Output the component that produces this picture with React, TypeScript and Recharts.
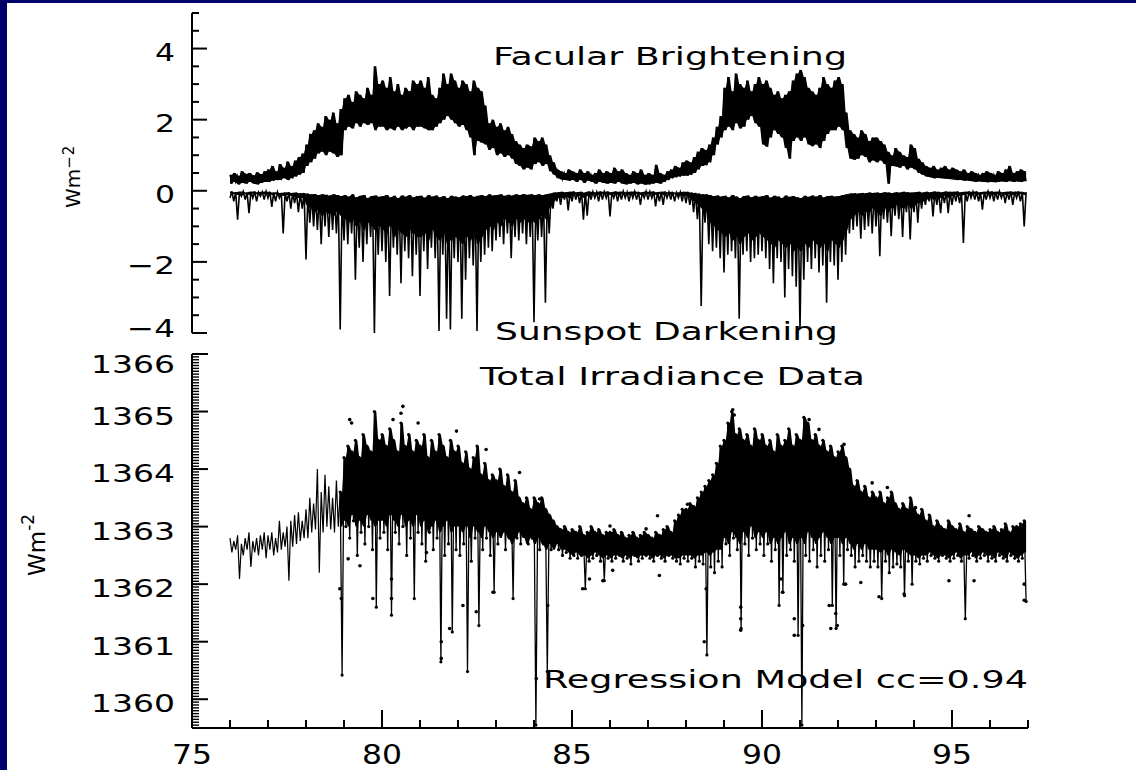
import React from 'react';
import { ComposedChart, Line, Area, Scatter, XAxis, YAxis, Customized } from 'recharts';

// ---------- sampling of the time axis (years since 1900) ----------
const START_YEAR = 76.0;
const BIN = 0.1;

// ---------- Facular brightening: upper / lower envelope per 0.1 yr (W m-2) ----------
const facHi = [
  0.45, 0.5, 0.42, 0.55, 0.48, 0.5, 0.44, 0.52, 0.47, 0.55,
  0.6, 0.7, 0.55, 0.75, 0.65, 0.82, 0.7, 0.85, 0.95, 1.05,
  1.3, 1.6, 1.7, 1.9, 1.8, 2.1, 2.0, 2.2, 1.9, 2.3,
  2.6, 2.7, 2.5, 2.8, 2.7, 2.6, 2.9, 2.7, 3.5, 3.0,
  3.1, 2.9, 3.2, 2.8, 3.0, 2.7, 2.9, 2.8, 3.1, 3.0,
  3.1, 2.9, 3.2, 2.7, 2.6, 2.9, 3.3, 3.0, 3.3, 3.1,
  2.9, 3.1, 3.0, 2.8, 3.1, 2.9, 2.8, 2.4, 1.9, 2.0,
  1.8, 1.9, 1.7, 1.8, 1.6, 1.4, 1.3, 1.2, 1.3, 1.25,
  1.5, 1.4, 1.5, 1.3, 1.0, 0.8, 0.6, 0.55, 0.5, 0.6,
  0.55, 0.5, 0.6, 0.5, 0.55, 0.45, 0.5, 0.6, 0.5, 0.55,
  0.5, 0.65, 0.55, 0.6, 0.5, 0.45, 0.55, 0.5, 0.6, 0.45,
  0.5, 0.45, 0.73, 0.5, 0.45, 0.55, 0.6, 0.7, 0.65, 0.8,
  0.85, 0.8, 0.95, 1.1, 1.2, 1.15, 1.3, 1.5, 1.8, 2.1,
  2.9, 3.2, 2.8, 3.3, 3.0, 2.9, 3.1, 2.8, 3.0, 3.2,
  3.0, 3.1, 2.9, 2.7, 2.8, 2.6, 2.7, 2.8, 3.1, 3.3,
  3.4, 3.2, 2.9, 2.8, 2.7, 2.9, 3.2, 3.0, 2.9, 3.1,
  3.2, 3.0, 2.2, 1.7, 1.6, 1.5, 1.7, 1.6, 1.4, 1.5,
  1.5, 1.4, 1.3, 1.1, 1.0, 1.2, 1.1, 1.0, 0.95, 1.3,
  1.2, 0.9, 0.8, 0.7, 0.65, 0.7, 0.6, 0.65, 0.7, 0.6,
  0.65, 0.6, 0.55, 0.6, 0.5, 0.55, 0.5, 0.45, 0.5, 0.55,
  0.5, 0.45, 0.55, 0.5, 0.6, 0.7, 0.5, 0.55, 0.6, 0.55,
];
const facLo = [
  0.2, 0.25, 0.18, 0.22, 0.2, 0.25, 0.2, 0.18, 0.22, 0.25,
  0.25, 0.28, 0.3, 0.3, 0.35, 0.3, 0.35, 0.4, 0.45, 0.5,
  0.7, 0.8, 0.9, 1.05, 1.1, 1.0, 1.1, 1.05, 0.95, 1.0,
  1.7, 1.8, 1.75, 1.9, 1.8, 1.9, 1.85, 1.9, 1.7, 1.8,
  1.8, 1.7, 1.75, 1.7, 1.8, 1.7, 1.75, 1.8, 1.7, 1.8,
  1.8, 1.75, 1.7, 1.7, 1.8, 1.9, 2.0, 2.1, 2.0, 1.9,
  1.8, 1.85, 1.7, 1.5, 1.0, 1.4, 1.35, 1.3, 1.15, 1.2,
  1.0, 1.05, 0.95, 1.0, 0.9, 0.75, 0.7, 0.6, 0.65, 0.6,
  0.75, 0.8, 0.7, 0.75, 0.55, 0.45, 0.35, 0.32, 0.3, 0.28,
  0.3, 0.25, 0.3, 0.22, 0.28, 0.25, 0.2, 0.25, 0.22, 0.2,
  0.22, 0.2, 0.25, 0.2, 0.18, 0.2, 0.22, 0.18, 0.2, 0.17,
  0.18, 0.2, 0.22, 0.2, 0.25, 0.3, 0.35, 0.38, 0.4, 0.42,
  0.42, 0.45, 0.5, 0.6, 0.7, 0.72, 0.8, 1.0, 1.3, 1.5,
  1.7, 1.8, 1.7, 1.9, 1.75, 1.8, 2.0, 2.1, 1.9, 1.8,
  1.3, 1.24, 1.5, 1.7, 1.6, 1.5, 1.2, 0.9, 1.4, 1.5,
  1.4, 1.5, 1.3, 1.25, 1.3, 1.2, 1.4, 1.6, 1.7, 1.7,
  1.8, 1.7, 1.2, 0.9, 0.87, 0.9, 1.0, 0.95, 0.8, 0.85,
  0.8, 0.85, 0.75, 0.2, 0.7, 0.68, 0.65, 0.7, 0.6, 0.65,
  0.6, 0.5, 0.45, 0.4, 0.38, 0.35, 0.36, 0.35, 0.34, 0.33,
  0.32, 0.3, 0.3, 0.28, 0.28, 0.27, 0.25, 0.26, 0.25, 0.24,
  0.25, 0.24, 0.25, 0.26, 0.25, 0.27, 0.25, 0.26, 0.25, 0.27,
];

// ---------- Sunspot darkening: upper edge, solid-band lower edge and spike depth per 0.1 yr ----------
const spotTop = [
  -0.02, -0.04, -0.03, -0.02, -0.05, -0.03, -0.02, -0.04, -0.03, -0.02,
  -0.03, -0.05, -0.04, -0.06, -0.05, -0.04, -0.06, -0.05, -0.07, -0.06,
  -0.08, -0.1, -0.09, -0.12, -0.1, -0.11, -0.13, -0.1, -0.12, -0.15,
  -0.12, -0.16, -0.1, -0.18, -0.14, -0.12, -0.2, -0.15, -0.13, -0.17,
  -0.15, -0.12, -0.18, -0.14, -0.2, -0.13, -0.16, -0.12, -0.18, -0.15,
  -0.14, -0.19, -0.12, -0.16, -0.13, -0.18, -0.15, -0.2, -0.14, -0.16,
  -0.18, -0.13, -0.15, -0.12, -0.17, -0.14, -0.12, -0.15, -0.1, -0.13,
  -0.12, -0.1, -0.14, -0.11, -0.13, -0.1, -0.12, -0.09, -0.11, -0.1,
  -0.12, -0.1, -0.12, -0.1, -0.08, -0.05, -0.04, -0.03, -0.04, -0.03,
  -0.02, -0.04, -0.03, -0.05, -0.02, -0.03, -0.04, -0.02, -0.03, -0.02,
  -0.04, -0.02, -0.03, -0.02, -0.04, -0.03, -0.02, -0.03, -0.04, -0.02,
  -0.03, -0.02, -0.04, -0.03, -0.02, -0.04, -0.03, -0.05, -0.04, -0.03,
  -0.03, -0.05, -0.06, -0.08, -0.1, -0.1, -0.12, -0.15, -0.13, -0.16,
  -0.14, -0.18, -0.12, -0.16, -0.2, -0.15, -0.13, -0.18, -0.14, -0.17,
  -0.15, -0.12, -0.19, -0.14, -0.16, -0.2, -0.13, -0.17, -0.15, -0.18,
  -0.2, -0.14, -0.17, -0.13, -0.16, -0.12, -0.18, -0.15, -0.14, -0.16,
  -0.15, -0.12, -0.1, -0.08, -0.07, -0.08, -0.06, -0.07, -0.05, -0.06,
  -0.05, -0.06, -0.04, -0.05, -0.06, -0.04, -0.05, -0.03, -0.04, -0.05,
  -0.04, -0.03, -0.05, -0.03, -0.04, -0.02, -0.03, -0.04, -0.02, -0.03,
  -0.03, -0.02, -0.04, -0.03, -0.02, -0.03, -0.02, -0.04, -0.03, -0.02,
  -0.02, -0.03, -0.02, -0.04, -0.03, -0.02, -0.03, -0.02, -0.03, -0.04,
];
const spotCore = [
  -0.08, -0.1, -0.12, -0.08, -0.1, -0.12, -0.08, -0.1, -0.09, -0.1,
  -0.1, -0.12, -0.1, -0.12, -0.15, -0.12, -0.15, -0.18, -0.2, -0.2,
  -0.4, -0.5, -0.6, -0.55, -0.7, -0.6, -0.65, -0.7, -0.6, -0.7,
  -0.8, -0.9, -0.8, -1.0, -0.9, -1.1, -0.9, -1.0, -1.1, -1.0,
  -1.1, -1.2, -1.0, -1.3, -1.1, -1.2, -1.3, -1.1, -1.2, -1.3,
  -1.3, -1.2, -1.4, -1.1, -1.3, -1.4, -1.2, -1.5, -1.4, -1.3,
  -1.4, -1.5, -1.3, -1.4, -1.2, -1.5, -1.3, -1.1, -1.0, -1.1,
  -0.9, -1.0, -0.8, -0.9, -1.0, -0.8, -0.9, -0.8, -0.9, -0.8,
  -0.9, -0.8, -0.7, -0.8, -0.5, -0.3, -0.2, -0.2, -0.15, -0.2,
  -0.15, -0.12, -0.15, -0.2, -0.15, -0.12, -0.1, -0.12, -0.1, -0.1,
  -0.12, -0.1, -0.12, -0.1, -0.1, -0.12, -0.1, -0.1, -0.12, -0.1,
  -0.1, -0.1, -0.12, -0.1, -0.12, -0.1, -0.12, -0.1, -0.12, -0.15,
  -0.15, -0.2, -0.3, -0.4, -0.5, -0.6, -0.9, -1.0, -1.1, -1.2,
  -1.3, -1.2, -1.4, -1.3, -1.5, -1.3, -1.2, -1.4, -1.3, -1.2,
  -1.3, -1.4, -1.5, -1.6, -1.4, -1.5, -1.6, -1.5, -1.7, -1.6,
  -1.7, -1.5, -1.6, -1.4, -1.5, -1.6, -1.5, -1.7, -1.4, -1.5,
  -1.6, -1.4, -1.1, -0.8, -0.7, -0.6, -0.7, -0.6, -0.6, -0.5,
  -0.6, -0.7, -0.5, -0.6, -0.5, -0.4, -0.45, -0.5, -0.4, -0.5,
  -0.4, -0.35, -0.3, -0.25, -0.2, -0.25, -0.2, -0.2, -0.15, -0.2,
  -0.15, -0.12, -0.15, -0.12, -0.1, -0.12, -0.1, -0.12, -0.1, -0.1,
  -0.1, -0.12, -0.1, -0.1, -0.12, -0.1, -0.12, -0.1, -0.1, -0.12,
];
const spotLo = [
  -0.2, -0.3, -0.81, -0.15, -0.25, -0.63, -0.2, -0.3, -0.15, -0.25,
  -0.2, -0.45, -0.3, -0.2, -1.2, -0.3, -0.5, -0.35, -0.6, -0.5,
  -1.93, -0.9, -1.0, -1.1, -1.5, -1.0, -1.3, -1.1, -1.2, -3.9,
  -1.4, -1.5, -1.2, -2.5, -1.6, -2.0, -1.5, -1.3, -4.0, -1.8,
  -1.7, -2.0, -2.96, -1.6, -1.8, -2.6, -1.7, -1.9, -2.4, -1.8,
  -2.96, -1.7, -2.2, -1.6, -1.9, -3.94, -1.8, -3.6, -3.9, -1.9,
  -2.0, -3.6, -2.5, -1.9, -2.1, -3.94, -2.0, -1.8, -1.6, -1.7,
  -1.4, -1.3, -1.5, -1.2, -1.9, -1.3, -1.4, -1.2, -1.5, -1.3,
  -3.7, -1.4, -1.3, -3.15, -1.2, -0.5, -0.3, -0.4, -0.25, -0.55,
  -0.3, -0.25, -0.35, -0.81, -0.7, -0.25, -0.2, -0.3, -0.25, -0.2,
  -0.72, -0.2, -0.3, -0.25, -0.2, -0.3, -0.2, -0.25, -0.4, -0.2,
  -0.25, -0.2, -0.44, -0.3, -0.4, -0.2, -0.25, -0.3, -0.2, -0.3,
  -0.35, -0.4, -0.6, -0.8, -3.24, -0.9, -1.5, -1.7, -1.6, -1.9,
  -2.3, -1.8, -1.7, -1.9, -3.6, -1.8, -1.7, -2.0, -1.9, -1.8,
  -1.7, -1.9, -2.2, -2.6, -1.9, -2.0, -3.0, -2.2, -2.4, -2.7,
  -3.9, -2.5, -2.0, -2.2, -1.9, -2.3, -2.1, -3.15, -2.0, -2.1,
  -2.5, -2.0, -1.8, -1.2, -1.1, -1.0, -1.35, -1.1, -1.0, -1.2,
  -1.0, -1.84, -0.8, -0.9, -1.28, -0.7, -0.8, -1.3, -0.6, -1.37,
  -0.6, -0.9, -0.5, -0.4, -0.3, -0.72, -0.4, -0.63, -0.35, -0.63,
  -0.4, -0.3, -0.35, -1.47, -0.3, -0.2, -0.25, -0.3, -0.53, -0.25,
  -0.2, -0.3, -0.25, -0.2, -0.35, -0.25, -0.4, -0.2, -0.3, -1.0,
];

// ---------- Total irradiance: upper / lower envelope per 0.1 yr (W m-2) ----------
const tsiHi = [
  1362.8, 1362.75, 1362.85, 1362.7, 1362.8, 1362.9, 1362.75, 1362.8, 1362.85, 1362.9,
  1362.85, 1362.9, 1362.8, 1363.1, 1362.9, 1363.0, 1363.1, 1363.2, 1363.25, 1363.1,
  1363.3, 1363.5, 1363.4, 1364.0, 1363.6, 1363.9, 1363.7, 1363.5, 1363.8, 1363.6,
  1364.2, 1364.4, 1364.3, 1364.5, 1364.2, 1364.6, 1364.4, 1364.3, 1365.0, 1364.5,
  1364.6, 1364.4, 1364.7, 1364.5, 1364.3, 1364.8, 1364.4, 1364.6, 1364.3, 1364.5,
  1364.4, 1364.6, 1364.2, 1364.5, 1364.3, 1364.6, 1364.4, 1364.2, 1364.5, 1364.3,
  1364.4, 1364.1, 1364.3, 1364.0, 1364.2, 1364.4, 1363.9, 1364.1, 1363.8, 1363.9,
  1363.8, 1364.0, 1363.7, 1363.9, 1363.6, 1363.8, 1363.5, 1363.4, 1363.5, 1363.3,
  1363.5, 1363.4, 1363.5, 1363.3, 1363.2, 1363.1, 1363.0, 1362.95, 1363.0, 1362.9,
  1362.95, 1362.9, 1363.0, 1362.85, 1362.9, 1363.0, 1362.9, 1362.95, 1362.85, 1362.9,
  1362.9, 1362.95, 1362.85, 1362.9, 1362.8, 1362.85, 1362.9, 1362.8, 1362.85, 1362.9,
  1362.85, 1362.8, 1362.9, 1362.85, 1362.95, 1363.0, 1362.9, 1363.1, 1363.2, 1363.3,
  1363.3, 1363.4, 1363.35, 1363.5, 1363.6, 1363.7, 1363.8, 1363.9, 1364.1, 1364.4,
  1364.5, 1364.8, 1365.0, 1364.6, 1364.7, 1364.5, 1364.6, 1364.4, 1364.7, 1364.5,
  1364.6, 1364.4, 1364.5, 1364.3, 1364.6, 1364.4, 1364.5, 1364.7, 1364.4, 1364.6,
  1364.5, 1364.9, 1364.8, 1364.5, 1364.6, 1364.4, 1364.5, 1364.3, 1364.4, 1364.2,
  1364.3, 1364.4, 1364.2, 1364.0, 1363.7, 1363.8, 1363.6, 1363.7, 1363.5, 1363.6,
  1363.5, 1363.6, 1363.4, 1363.5, 1363.6, 1363.4, 1363.3, 1363.4, 1363.3, 1363.5,
  1363.3, 1363.2, 1363.3, 1363.1, 1363.2, 1363.0, 1363.1, 1363.0, 1362.95, 1363.1,
  1363.0, 1362.95, 1363.05, 1362.9, 1363.0, 1362.95, 1362.9, 1363.0, 1362.95, 1362.9,
  1362.95, 1363.0, 1362.9, 1362.95, 1363.05, 1362.9, 1363.0, 1363.0, 1363.05, 1363.1,
];
const tsiLo = [
  1362.55, 1362.6, 1362.09, 1362.5, 1362.6, 1362.3, 1362.55, 1362.5, 1362.6, 1362.45,
  1362.6, 1362.5, 1362.55, 1362.6, 1362.65, 1362.06, 1362.65, 1362.7, 1362.75, 1362.8,
  1362.8, 1362.9, 1362.95, 1362.2, 1362.9, 1363.0, 1362.95, 1362.9, 1363.0, 1360.42,
  1363.0, 1362.8, 1363.1, 1362.5, 1362.9, 1362.7, 1363.0, 1362.6, 1361.6, 1362.8,
  1362.9, 1362.6, 1361.46, 1362.9, 1362.7, 1363.0, 1362.5, 1362.8, 1361.75, 1362.9,
  1362.7, 1362.4, 1362.9, 1362.6, 1362.8, 1360.65, 1362.5, 1362.7, 1361.17, 1362.6,
  1362.5, 1362.7, 1360.48, 1362.4, 1362.8, 1361.28, 1362.6, 1362.8, 1362.5, 1361.86,
  1362.7, 1362.9, 1362.6, 1362.8, 1361.75, 1362.8, 1362.7, 1362.9, 1362.7, 1362.8,
  1359.55, 1362.6, 1362.7, 1360.48, 1362.6, 1362.7, 1362.6, 1362.5, 1362.55, 1362.45,
  1362.5, 1362.45, 1362.5, 1361.92, 1362.4, 1362.45, 1362.5, 1362.4, 1362.06, 1362.45,
  1362.4, 1362.45, 1362.5, 1362.4, 1362.45, 1362.35, 1362.5, 1362.4, 1362.45, 1362.5,
  1362.45, 1362.4, 1362.5, 1362.45, 1362.4, 1362.5, 1362.45, 1362.4, 1362.35, 1362.45,
  1362.4, 1362.45, 1362.3, 1362.4, 1362.35, 1360.77, 1362.3, 1362.2, 1362.4, 1362.3,
  1362.7, 1362.5, 1362.8, 1362.6, 1361.23, 1362.7, 1362.5, 1362.8, 1362.6, 1362.7,
  1362.5, 1362.7, 1362.4, 1362.6, 1361.63, 1361.86, 1362.5, 1362.6, 1362.4, 1361.11,
  1359.55, 1362.5, 1362.4, 1362.6, 1362.3, 1362.5, 1362.4, 1362.6, 1361.63, 1361.23,
  1362.5, 1362.0, 1362.6, 1362.5, 1362.3, 1362.4, 1362.5, 1362.4, 1362.3, 1362.4,
  1362.3, 1361.75, 1362.4, 1362.2, 1362.3, 1362.35, 1362.3, 1361.8, 1362.4, 1362.0,
  1362.4, 1362.35, 1362.45, 1362.4, 1362.5, 1362.45, 1362.4, 1362.5, 1362.45, 1362.4,
  1362.45, 1362.5, 1362.4, 1361.4, 1362.45, 1362.5, 1362.4, 1362.45, 1362.5, 1362.4,
  1362.45, 1362.4, 1362.5, 1362.45, 1362.4, 1362.5, 1362.45, 1362.4, 1362.45, 1361.7,
];
// first year with measured (dotted) irradiance data
const DATA_START = 78.9;
// lower edge of the solid band of measured points, per 0.1 yr from 78.9
const tsiCore = [
  1363.0,
  1363.1, 1363.0, 1363.2, 1363.0, 1363.1, 1363.0, 1363.2, 1363.1, 1363.0, 1363.1,
  1363.1, 1363.0, 1363.2, 1363.1, 1363.0, 1363.2, 1363.0, 1363.1, 1363.0, 1363.2,
  1363.0, 1363.1, 1362.9, 1363.0, 1363.1, 1362.9, 1363.0, 1363.1, 1362.9, 1363.0,
  1363.0, 1362.9, 1363.0, 1362.8, 1363.0, 1362.9, 1362.8, 1363.0, 1362.9, 1362.8,
  1362.9, 1362.8, 1362.9, 1362.8, 1362.7, 1362.8, 1362.9, 1362.8, 1362.7, 1362.8,
  1362.7, 1362.8, 1362.7, 1362.6, 1362.7, 1362.6, 1362.7, 1362.6, 1362.6, 1362.55,
  1362.5, 1362.55, 1362.5, 1362.5, 1362.45, 1362.5, 1362.55, 1362.5, 1362.45, 1362.5,
  1362.45, 1362.5, 1362.5, 1362.45, 1362.5, 1362.45, 1362.5, 1362.45, 1362.5, 1362.5,
  1362.5, 1362.45, 1362.5, 1362.5, 1362.45, 1362.5, 1362.5, 1362.45, 1362.45, 1362.5,
  1362.5, 1362.5, 1362.45, 1362.5, 1362.5, 1362.55, 1362.5, 1362.55, 1362.6, 1362.6,
  1362.8, 1362.7, 1362.9, 1362.8, 1362.7, 1362.9, 1362.8, 1363.0, 1362.8, 1362.9,
  1362.8, 1362.9, 1362.7, 1362.8, 1362.7, 1362.8, 1362.9, 1362.7, 1362.8, 1362.7,
  1362.8, 1362.7, 1362.9, 1362.8, 1362.7, 1362.8, 1362.9, 1362.8, 1362.7, 1362.8,
  1362.8, 1362.7, 1362.8, 1362.7, 1362.6, 1362.7, 1362.6, 1362.7, 1362.6, 1362.6,
  1362.6, 1362.55, 1362.6, 1362.5, 1362.6, 1362.55, 1362.5, 1362.6, 1362.55, 1362.5,
  1362.5, 1362.45, 1362.5, 1362.5, 1362.55, 1362.5, 1362.45, 1362.5, 1362.5, 1362.45,
  1362.5, 1362.55, 1362.45, 1362.5, 1362.5, 1362.55, 1362.45, 1362.5, 1362.55, 1362.5,
  1362.5, 1362.45, 1362.55, 1362.5, 1362.45, 1362.55, 1362.5, 1362.45, 1362.5, 1362.55,
];

// isolated measured irradiance points [year, W m-2]
const tsiDots: [number, number][] = [
  [79.15, 1364.86], [79.2, 1364.8], [80.55, 1365.09], [80.5, 1364.97], [80.29, 1364.86],
  [80.95, 1364.8], [81.96, 1364.66], [82.74, 1364.34], [83.62, 1363.94], [84.15, 1363.48],
  [86.0, 1363.01], [86.95, 1362.96], [79.11, 1362.44], [79.42, 1362.32], [81.17, 1362.55],
  [82.92, 1361.86], [82.13, 1361.63], [81.78, 1361.23], [81.56, 1361.0], [81.56, 1360.71],
  [84.06, 1360.36], [84.36, 1361.63], [85.28, 1361.92], [85.46, 1362.09], [85.81, 1362.06],
  [78.89, 1361.92], [78.93, 1361.75], [80.25, 1362.09], [80.25, 1361.75], [79.76, 1361.75],
  [82.48, 1361.52], [89.23, 1365.03], [89.27, 1364.94], [91.24, 1364.86], [91.5, 1364.69],
  [92.16, 1364.43], [92.9, 1363.76], [93.3, 1363.68], [94.04, 1363.33], [95.45, 1363.19],
  [87.25, 1363.19], [88.04, 1363.39], [86.07, 1362.24], [87.3, 1362.15], [88.53, 1361.92],
  [88.48, 1361.0], [89.44, 1361.6], [89.44, 1361.4], [89.44, 1361.2], [90.54, 1361.86],
  [90.5, 1362.09], [90.85, 1361.4], [90.85, 1361.11], [91.07, 1361.28], [91.77, 1361.63],
  [91.81, 1361.23], [91.94, 1361.49], [91.98, 1361.28], [92.2, 1362.0], [92.6, 1362.03],
  [93.08, 1361.78], [93.74, 1361.83], [94.92, 1362.06], [95.58, 1362.06], [96.9, 1362.0],
  [96.9, 1361.72],
];

// ---------- axes ----------
const topTicks = [-4, -3.5, -3, -2.5, -2, -1.5, -1, -0.5, 0, 0.5, 1, 1.5, 2, 2.5, 3, 3.5, 4, 4.5, 5];
const topMajor = [-4, -2, 0, 2, 4];
const tsiMajor = [1360, 1361, 1362, 1363, 1364, 1365, 1366];
const tsiTicks: number[] = [];
for (let k = 0; k <= 130; k++) tsiTicks.push(Math.round((1359.5 + k * 0.05) * 100) / 100);
const yearTicks = [75, 76, 77, 78, 79, 80, 81, 82, 83, 84, 85, 86, 87, 88, 89, 90, 91, 92, 93, 94, 95, 96, 97];
const yearMajor = [75, 80, 85, 90, 95];

// ---------- tables ----------
const r2 = (v: number) => Math.round(v * 100) / 100;
const CORE_OFFSET = Math.round((DATA_START - START_YEAR) / BIN);
const topRows: any[] = [];
facHi.forEach((h, i) => {
  const t = r2(START_YEAR + i * BIN);
  const band = [facLo[i], h];
  const sBand = [spotCore[i], spotTop[i]];
  topRows.push({ t, fac: h, spot: spotLo[i], facBand: band, spotBand: sBand });
  topRows.push({ t: r2(t + BIN / 2), fac: facLo[i], spot: spotTop[i], facBand: band, spotBand: sBand });
});
const botRows: any[] = [];
tsiHi.forEach((h, i) => {
  const t = r2(START_YEAR + i * BIN);
  const t2 = r2(t + BIN / 2);
  const c = i >= CORE_OFFSET ? tsiCore[i - CORE_OFFSET] : undefined;
  const band = c !== undefined ? [c, h] : undefined;
  botRows.push({ t, early: t <= DATA_START ? h : undefined, late: t >= DATA_START ? h : undefined, band });
  botRows.push({ t: t2, early: t2 <= DATA_START ? tsiLo[i] : undefined, late: t2 >= DATA_START ? tsiLo[i] : undefined, band });
});
const dotRows = tsiDots.map(([t, v]) => ({ t, v }));

const FONT = '"DejaVu Sans", Verdana, sans-serif';
const DIGIT_W = 20; // width of one stretched digit in the reference lettering
const labelWidth = (s: string) => s.replace('\u2212', '').length * DIGIT_W + (s.startsWith('\u2212') ? 28 : 0);
const fmt = (v: number) => (v < 0 ? '\u2212' + Math.abs(v) : String(v));

function TopYTick(props: any) {
  const { x, y, payload } = props;
  const v = payload.value;
  const major = topMajor.includes(v);
  const s = fmt(v);
  const center = v === -4 ? y - 5 : y + 3;
  return (
    <g>
      <line x1={x} x2={x + (major ? 15 : 7)} y1={y} y2={y} stroke="#000" strokeWidth={2} />
      {major && (
        <text x={x - 17} y={center + 9} textAnchor="end" fontFamily={FONT} fontSize={25} fill="#000"
          textLength={labelWidth(s)} lengthAdjust="spacingAndGlyphs">
          {s}
        </text>
      )}
    </g>
  );
}

function TsiTick(props: any) {
  const { x, y, payload } = props;
  const v = payload.value;
  const major = tsiMajor.includes(v);
  const center = v === 1366 ? y + 10 : y + 4;
  return (
    <g>
      <line x1={x} x2={x + (major ? 16 : 7)} y1={y} y2={y} stroke="#000" strokeWidth={major ? 2 : 1.4} />
      {major && (
        <text x={x - 17} y={center + 9} textAnchor="end" fontFamily={FONT} fontSize={25} fill="#000"
          textLength={84} lengthAdjust="spacingAndGlyphs">
          {v}
        </text>
      )}
    </g>
  );
}

function YearTick(props: any) {
  const { x, y, payload } = props;
  const v = payload.value;
  const major = yearMajor.includes(v);
  return (
    <g>
      <line x1={x} x2={x} y1={y} y2={y - (major ? 18 : 8)} stroke="#000" strokeWidth={2} />
      {major && (
        <text x={x} y={y + 36} textAnchor="middle" fontFamily={FONT} fontSize={26} fill="#000"
          textLength={40} lengthAdjust="spacingAndGlyphs">
          {v}
        </text>
      )}
    </g>
  );
}

const titleProps = { fontFamily: FONT, fontSize: 25, fill: '#000', lengthAdjust: 'spacingAndGlyphs' as const };

const TopTexts = () => (
  <g>
    <text x={493} y={65} textLength={354} {...titleProps}>Facular Brightening</text>
    <text x={495} y={340} textLength={343} {...titleProps}>Sunspot Darkening</text>
    <text x={80} y={208} transform="rotate(-90 80 208)" fontFamily={FONT} fontSize={20} fill="#000">
      Wm<tspan dy={-6} fontSize={15} letterSpacing={1}>{'\u22122'}</tspan>
    </text>
  </g>
);

const BottomTexts = () => (
  <g>
    <text x={45} y={236} transform="rotate(-90 45 236)" fontFamily={FONT} fontSize={23} fill="#000">
      Wm<tspan dy={-11} fontSize={17}>-2</tspan>
    </text>
    <text x={480} y={45} textLength={385} {...titleProps}>Total Irradiance Data</text>
    <text x={543} y={348} textLength={485} {...titleProps}>Regression Model cc=0.94</text>
  </g>
);

const SmallDot = (props: any) => <circle cx={props.cx} cy={props.cy} r={1.8} fill="#000" />;

export default function App() {
  return (
    <div style={{ position: 'absolute', left: 0, top: 0, width: 1136, height: 770, background: '#00006a', overflow: 'hidden' }}>
      <div style={{ position: 'absolute', left: 7, top: 3, right: 0, bottom: 0, background: '#fff' }} />
      <div style={{ position: 'absolute', left: 0, top: 0 }}>
        <ComposedChart width={1136} height={360} data={topRows} margin={{ top: 13, right: 108, bottom: 27, left: 132 }}>
          <XAxis dataKey="t" type="number" domain={[75, 97]} hide />
          <YAxis
            type="number"
            domain={[-4, 5]}
            ticks={topTicks}
            interval={0}
            width={60}
            tickSize={0}
            tickMargin={0}
            tickLine={false}
            axisLine={{ stroke: '#000', strokeWidth: 2 }}
            tick={<TopYTick />}
          />
          <Area dataKey="facBand" type="linear" stroke="none" fill="#000" fillOpacity={1} isAnimationActive={false} />
          <Area dataKey="spotBand" type="linear" stroke="none" fill="#000" fillOpacity={1} isAnimationActive={false} />
          <Line dataKey="fac" stroke="#000" strokeWidth={1.4} dot={false} isAnimationActive={false} />
          <Line dataKey="spot" stroke="#000" strokeWidth={1.6} dot={false} isAnimationActive={false} />
          <Customized component={TopTexts} />
        </ComposedChart>
      </div>
      <div style={{ position: 'absolute', left: 0, top: 340 }}>
        <ComposedChart width={1136} height={430} data={botRows} margin={{ top: 14, right: 108, bottom: 12, left: 132 }}>
          <XAxis
            dataKey="t"
            type="number"
            domain={[75, 97]}
            ticks={yearTicks}
            interval={0}
            height={30}
            tickSize={0}
            tickMargin={0}
            tickLine={false}
            axisLine={{ stroke: '#000', strokeWidth: 2 }}
            tick={<YearTick />}
          />
          <YAxis
            type="number"
            domain={[1359.5, 1366]}
            ticks={tsiTicks}
            interval={0}
            width={60}
            tickSize={0}
            tickMargin={0}
            tickLine={false}
            axisLine={{ stroke: '#000', strokeWidth: 2 }}
            tick={<TsiTick />}
          />
          <Area dataKey="band" type="linear" stroke="none" fill="#000" fillOpacity={1} isAnimationActive={false} />
          <Line dataKey="early" stroke="#000" strokeWidth={1.2} dot={false} isAnimationActive={false} />
          <Line
            dataKey="late"
            stroke="#000"
            strokeWidth={1.3}
            dot={{ r: 1.6, fill: '#000', stroke: 'none' }}
            isAnimationActive={false}
          />
          <Scatter data={dotRows} dataKey="v" fill="#000" shape={SmallDot} isAnimationActive={false} />
          <Customized component={BottomTexts} />
        </ComposedChart>
      </div>
    </div>
  );
}
